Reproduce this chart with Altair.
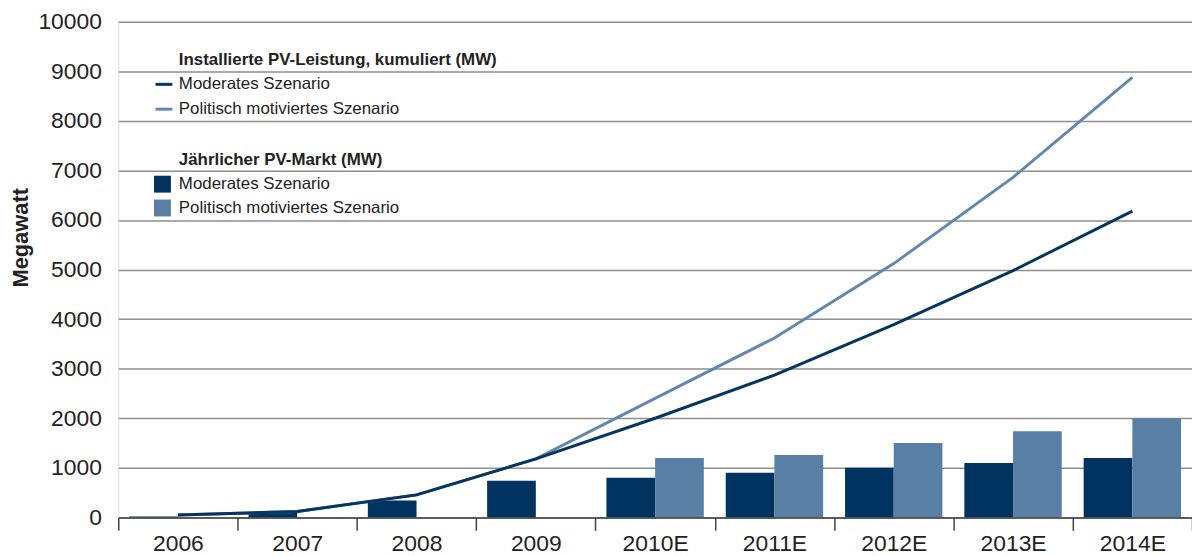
import altair as alt
import pandas as pd

years = ["2006", "2007", "2008", "2009", "2010E", "2011E", "2012E", "2013E", "2014E"]
scenarios = ["Moderates Szenario", "Politisch motiviertes Szenario"]

# Jährlicher PV-Markt (MW)
bar_mod = [20, 100, 340, 740, 800, 900, 1000, 1100, 1200]
bar_pol = [None, None, None, None, 1200, 1260, 1500, 1740, 2000]

# Installierte PV-Leistung, kumuliert (MW)
line_mod = [50, 120, 455, 1180, 2000, 2870, 3890, 4980, 6180]
line_pol = [50, 120, 455, 1180, 2400, 3620, 5120, 6860, 8880]

heading_lines = "Installierte PV-Leistung, kumuliert (MW)"
heading_bars = "Jährlicher PV-Markt (MW)"
y_title = "Megawatt"
y_ticks = [0, 1000, 2000, 3000, 4000, 5000, 6000, 7000, 8000, 9000, 10000]

bar_colors = ["#00335f", "#5a7fa5"]
line_colors = ["#06355f", "#6487ad"]

AX_FONT = "Liberation Sans"
LG_FONT = "Liberation Sans"
LG_SIZE = 17

rows = []
for yr, m, p in zip(years, bar_mod, bar_pol):
    rows.append({"Jahr": yr, "Markt": scenarios[0], "MW": m})
    if p is not None:
        rows.append({"Jahr": yr, "Markt": scenarios[1], "MW": p})
bars_df = pd.DataFrame(rows)

lmod_df = pd.DataFrame({"Jahr": years, "Leistung": scenarios[0], "MW": line_mod})
lpol_df = pd.DataFrame({"Jahr": years, "Leistung": scenarios[1], "MW": line_pol})

x_enc = alt.X(
    "Jahr:N", sort=years,
    scale=alt.Scale(paddingInner=0, paddingOuter=0),
    axis=alt.Axis(title=None, labelAngle=0, tickBand="extent", tickSize=13,
                  tickColor="#444", tickWidth=1.5, domainColor="#444", domainWidth=1.5,
                  labelFont=AX_FONT, labelFontSize=23, labelColor="#222",
                  labelPadding=2, zindex=1, grid=False),
)
y_enc = alt.Y(
    "MW:Q",
    scale=alt.Scale(domain=[0, 10000], nice=False),
    axis=alt.Axis(values=y_ticks, format="d", title=y_title, domain=False, ticks=False,
                  grid=True, gridColor="#8e8e8e", gridWidth=1.5,
                  labelFont=AX_FONT, labelFontSize=23, labelColor="#222", labelPadding=17,
                  titleFont=AX_FONT, titleFontSize=22, titleFontWeight="bold", titleColor="#222",
                  titleAngle=270, titleX=-98, titleY=217, titleAlign="center",
                  titleBaseline="middle"),
)

bars = alt.Chart(bars_df).mark_bar().encode(
    x=x_enc,
    y=y_enc,
    xOffset=alt.XOffset("Markt:N", sort=scenarios,
                        scale=alt.Scale(domain=scenarios, paddingInner=0, paddingOuter=0.225)),
    fill=alt.Fill("Markt:N", sort=scenarios,
                  scale=alt.Scale(domain=scenarios, range=bar_colors),
                  legend=alt.Legend(orient="none", legendX=36, legendY=155, title=None,
                                    symbolType="square", symbolSize=289, symbolStrokeWidth=0,
                                    labelFont=LG_FONT, labelFontSize=LG_SIZE, labelColor="#222",
                                    labelOffset=8, rowPadding=6, labelLimit=500)),
)

stroke_scale = alt.Scale(domain=scenarios, range=line_colors)
stroke_legend = alt.Legend(orient="none", legendX=36, legendY=53, title=None,
                           symbolType="stroke", symbolSize=289, symbolStrokeWidth=3,
                           labelFont=LG_FONT, labelFontSize=LG_SIZE, labelColor="#222",
                           labelOffset=5, rowPadding=7, labelLimit=500)

line_pol_layer = alt.Chart(lpol_df).mark_line(strokeWidth=3).encode(
    x=alt.X("Jahr:N", sort=years), y=alt.Y("MW:Q"),
    stroke=alt.Stroke("Leistung:N", sort=scenarios, scale=stroke_scale, legend=None))
line_mod_layer = alt.Chart(lmod_df).mark_line(strokeWidth=3).encode(
    x=alt.X("Jahr:N", sort=years), y=alt.Y("MW:Q"),
    stroke=alt.Stroke("Leistung:N", sort=scenarios, scale=stroke_scale, legend=stroke_legend))

head_df = pd.DataFrame({"t": [heading_lines, heading_bars], "k": [0, 1]})
head1 = alt.Chart(head_df[head_df.k == 0]).mark_text(
    align="left", baseline="alphabetic", font=LG_FONT, fontSize=LG_SIZE, fontWeight="bold",
    color="#222").encode(x=alt.value(61), y=alt.value(44), text="t:N")
head2 = alt.Chart(head_df[head_df.k == 1]).mark_text(
    align="left", baseline="alphabetic", font=LG_FONT, fontSize=LG_SIZE, fontWeight="bold",
    color="#222").encode(x=alt.value(61), y=alt.value(144), text="t:N")

chart = alt.layer(bars, line_pol_layer, line_mod_layer, head1, head2).resolve_legend(
    fill="independent", stroke="independent"
).properties(
    width=1081, height=499,
    autosize=alt.AutoSizeParams(type="none"),
    padding={"left": 111, "top": 12, "right": 0, "bottom": 37},
).configure_view(stroke=None, fill="#e7e8ea").configure(background="white")

chart.save("out.html", embed_options={"renderer": "svg", "actions": False})
